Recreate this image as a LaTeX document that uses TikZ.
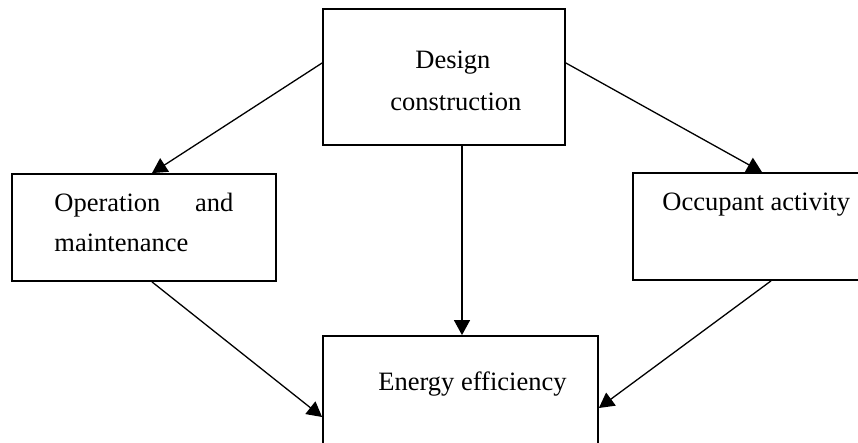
\documentclass[tikz,border=0pt]{standalone}
\usepackage{fontspec}
\setmainfont{Liberation Serif}
\usetikzlibrary{arrows.meta}
\begin{document}
\begin{tikzpicture}[x=0.5pt,y=-0.5pt,
  box/.style={draw=black,line width=0.9pt,rectangle,inner sep=0pt},
  lbl/.style={anchor=base west,inner sep=0pt,font=\fontsize{13.25pt}{16pt}\selectfont},
  conn/.style={line width=0.65pt,-{Triangle[length=7.5pt,width=8pt]}}]
\useasboundingbox (0,0) rectangle (858,443);
\clip (0,0) rectangle (858,443);
% boxes
\node[box,minimum width=121pt,minimum height=68pt] (design) at (444,77) {};
\node[box,minimum width=132pt,minimum height=53.5pt] (ops) at (144,227.5) {};
\node[box,minimum width=123.5pt,minimum height=53.5pt] (occ) at (756.5,226.5) {};
\node[box,minimum width=137.5pt,minimum height=67pt] (energy) at (460.5,403) {};
% labels
\node[lbl] (t1) at (415,69) {Design};
\node[lbl] (t2) at (390,111) {construction};
\node[lbl] (t3) at (54,212) {\hbox to 89.5pt{Operation\hfill and}};
\node[lbl] (t4) at (54,252) {maintenance};
\node[lbl] (t5) at (662,211) {Occupant activity};
\node[lbl] (t6) at (378,391) {Energy efficiency};
% connectors
\draw[conn] ([yshift=7pt]design.west) -- ([xshift=4pt]ops.north);
\draw[conn] ([yshift=7pt]design.east) -- ([xshift=2.75pt]occ.north);
\draw[conn] ([xshift=9pt]design.south) -- ([xshift=9pt]design.south |- energy.north);
\draw[conn] ([xshift=4pt]ops.south) -- ([yshift=-7pt]energy.west);
\draw[conn] ([xshift=7.25pt]occ.south) -- ([yshift=-2.5pt]energy.east);
\end{tikzpicture}
\end{document}
